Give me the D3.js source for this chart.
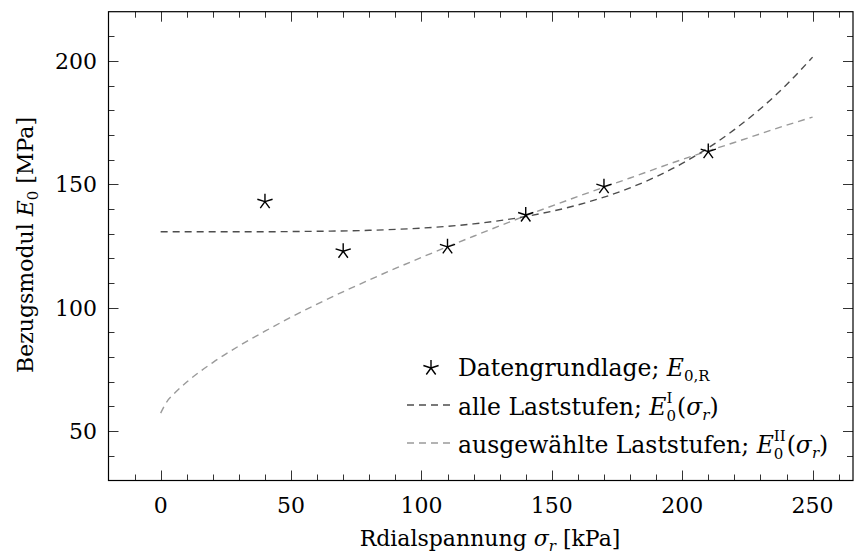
<!DOCTYPE html>
<html>
<head>
<meta charset="utf-8">
<script src="https://cdn.jsdelivr.net/npm/d3@7"></script>
<style>
  body { margin: 0; background: #fff; }
  svg text { font-family: "DejaVu Serif", "Liberation Serif", serif; fill: #000; }
</style>
</head>
<body>
<div id="chart"></div>
<script>
(function(){
    // data
    var sigma      = [40, 70, 110, 140, 170, 210];
    var e0R        = [143.0, 122.9, 124.7, 137.6, 149.1, 163.3];

    var curveSigma = [0, 2.5, 5, 10, 20, 30, 40, 50, 60, 80, 100, 120, 140, 160, 180, 200, 220, 240, 250];
    var fitAll     = [130.8, 130.8, 130.8, 130.8, 130.8, 130.8, 130.8, 130.9, 131.0, 131.4, 132.3, 134.0, 137.0, 141.7, 148.6, 158.5, 172.2, 190.4, 201.6];
    var fitSel     = [57.3, 62.1, 65.0, 69.9, 77.8, 84.5, 90.5, 96.2, 101.5, 111.3, 120.4, 129.0, 137.3, 145.1, 152.6, 160.1, 167.0, 174.0, 177.3];

    var xMajor = [0, 50, 100, 150, 200, 250];
    var yMajor = [50, 100, 150, 200];

    var WIDTH = 854, HEIGHT = 556,
        LEFT = 108.5, RIGHT = 853, TOP = 11.7, BOTTOM = 480.5,
        FS = 22, LFS = 23.5, SFS = 15;

    var DARK = '#4d4d4d', LIGHT = '#9a9a9a';

    var svg = d3.select('#chart').append('svg')
        .attr('width', WIDTH)
        .attr('height', HEIGHT);

    var x = d3.scaleLinear().domain([-20, 265.5]).range([LEFT, RIGHT]);
    var y = d3.scaleLinear().domain([30, 220]).range([BOTTOM, TOP]);

    // 5-ray star like the pgfplots "star" mark
    var star = {
        draw: function(ctx, size){
            var r = Math.sqrt(size);
            for (var k = 0; k < 5; k++) {
                var a = -Math.PI/2 + k * 2*Math.PI/5;
                ctx.moveTo(0, 0);
                ctx.lineTo(r*Math.cos(a), r*Math.sin(a));
            }
        }
    };

    // ticks, inward on all four sides
    var xMinor = d3.range(-10, 261, 10).filter(function(v){ return v % 50 !== 0; });
    var yMinor = d3.range(40, 211, 10).filter(function(v){ return v % 50 !== 0; });

    var ticks = svg.append('g').attr('class','ticks')
        .attr('stroke', '#333').attr('stroke-width', 1);

    function xTicks(vals, len){
        vals.forEach(function(v){
            var px = Math.round(x(v)) + 0.5;
            ticks.append('line').attr('x1', px).attr('x2', px).attr('y1', BOTTOM).attr('y2', BOTTOM - len);
            ticks.append('line').attr('x1', px).attr('x2', px).attr('y1', TOP).attr('y2', TOP + len);
        });
    }
    function yTicks(vals, len){
        vals.forEach(function(v){
            var py = Math.round(y(v)) + 0.5;
            ticks.append('line').attr('y1', py).attr('y2', py).attr('x1', LEFT).attr('x2', LEFT + len);
            ticks.append('line').attr('y1', py).attr('y2', py).attr('x1', RIGHT).attr('x2', RIGHT - len);
        });
    }
    xTicks(xMajor, 10); xTicks(xMinor, 6);
    yTicks(yMajor, 10); yTicks(yMinor, 6);

    // frame
    svg.append('rect')
        .attr('x', LEFT).attr('y', TOP)
        .attr('width', RIGHT - LEFT).attr('height', BOTTOM - TOP)
        .attr('fill', 'none').attr('stroke', '#000').attr('stroke-width', 1.2);

    // tick labels
    svg.append('g').selectAll('text').data(xMajor).enter().append('text')
        .attr('x', function(d){ return x(d); })
        .attr('y', 513)
        .attr('text-anchor', 'middle')
        .style('font-size', FS + 'px')
        .text(function(d){ return d; });

    svg.append('g').selectAll('text').data(yMajor).enter().append('text')
        .attr('x', 97)
        .attr('y', function(d){ return y(d) + 8; })
        .attr('text-anchor', 'end')
        .style('font-size', FS + 'px')
        .text(function(d){ return d; });

    // axis titles
    var xt = svg.append('text')
        .attr('x', 490).attr('y', 546)
        .attr('text-anchor', 'middle')
        .style('font-size', FS + 'px');
    xt.append('tspan').text('Rdialspannung ');
    xt.append('tspan').style('font-style', 'italic').text('σ');
    xt.append('tspan').style('font-style', 'italic').style('font-size', SFS + 'px').attr('dy', 5).text('r');
    xt.append('tspan').attr('dy', -5).text(' [kPa]');

    var yt = svg.append('text')
        .attr('transform', 'translate(33,245) rotate(-90)')
        .attr('text-anchor', 'middle')
        .style('font-size', FS + 'px');
    yt.append('tspan').text('Bezugsmodul ');
    yt.append('tspan').style('font-style', 'italic').text('E');
    yt.append('tspan').style('font-size', SFS + 'px').attr('dy', 5).text('0');
    yt.append('tspan').attr('dy', -5).text(' [MPa]');

    // fitted curves
    var line = d3.line()
        .x(function(d){ return x(d[0]); })
        .y(function(d){ return y(d[1]); })
        .curve(d3.curveMonotoneX);

    svg.append('path')
        .datum(d3.zip(curveSigma, fitSel))
        .attr('d', line)
        .attr('fill', 'none').attr('stroke', LIGHT)
        .attr('stroke-width', 1.4).attr('stroke-dasharray', '7,5');

    svg.append('path')
        .datum(d3.zip(curveSigma, fitAll))
        .attr('d', line)
        .attr('fill', 'none').attr('stroke', DARK)
        .attr('stroke-width', 1.4).attr('stroke-dasharray', '7,5');

    // data points
    var starPath = d3.symbol().type(star).size(64);
    svg.append('g').selectAll('path').data(d3.zip(sigma, e0R)).enter().append('path')
        .attr('transform', function(d){ return 'translate(' + x(d[0]) + ',' + y(d[1]) + ')'; })
        .attr('d', starPath)
        .attr('fill', 'none').attr('stroke', '#000').attr('stroke-width', 1.4);

    // legend
    var lg = svg.append('g').attr('class', 'legend');
    var TX = 458;

    lg.append('path')
        .attr('transform', 'translate(431,368)')
        .attr('d', starPath)
        .attr('fill', 'none').attr('stroke', '#000').attr('stroke-width', 1.4);
    var t1 = lg.append('text').attr('x', TX).attr('y', 376).style('font-size', LFS + 'px');
    t1.append('tspan').text('Datengrundlage; ');
    t1.append('tspan').style('font-style', 'italic').text('E');
    t1.append('tspan').style('font-size', SFS + 'px').attr('dy', 5).text('0,R');

    var rows = [
        {ly: 405, col: DARK,  ty: 415, label: 'alle Laststufen; ',        sup: 'I'},
        {ly: 443, col: LIGHT, ty: 453, label: 'ausgewählte Laststufen; ', sup: 'II'}
    ];
    rows.forEach(function(r){
        lg.append('line')
            .attr('x1', 407).attr('x2', 452).attr('y1', r.ly).attr('y2', r.ly)
            .attr('stroke', r.col).attr('stroke-width', 1.4).attr('stroke-dasharray', '7,5');

        var t = lg.append('text').attr('x', TX).attr('y', r.ty).style('font-size', LFS + 'px');
        t.append('tspan').text(r.label);
        t.append('tspan').style('font-style', 'italic').text('E');
        var sp = t.append('tspan').style('font-size', SFS + 'px').attr('dy', -12).text(r.sup);
        var sb = t.append('tspan').style('font-size', SFS + 'px').attr('dy', 18).text('0');
        var supW = sp.node().getComputedTextLength(),
            subW = sb.node().getComputedTextLength();
        sb.attr('dx', -supW);
        t.append('tspan').attr('dx', Math.max(0, supW - subW) + 1).attr('dy', -6).text('(');
        t.append('tspan').style('font-style', 'italic').text('σ');
        t.append('tspan').style('font-style', 'italic').style('font-size', SFS + 'px').attr('dy', 5).text('r');
        t.append('tspan').attr('dy', -5).text(')');
    });

})();
</script>
</body>
</html>
